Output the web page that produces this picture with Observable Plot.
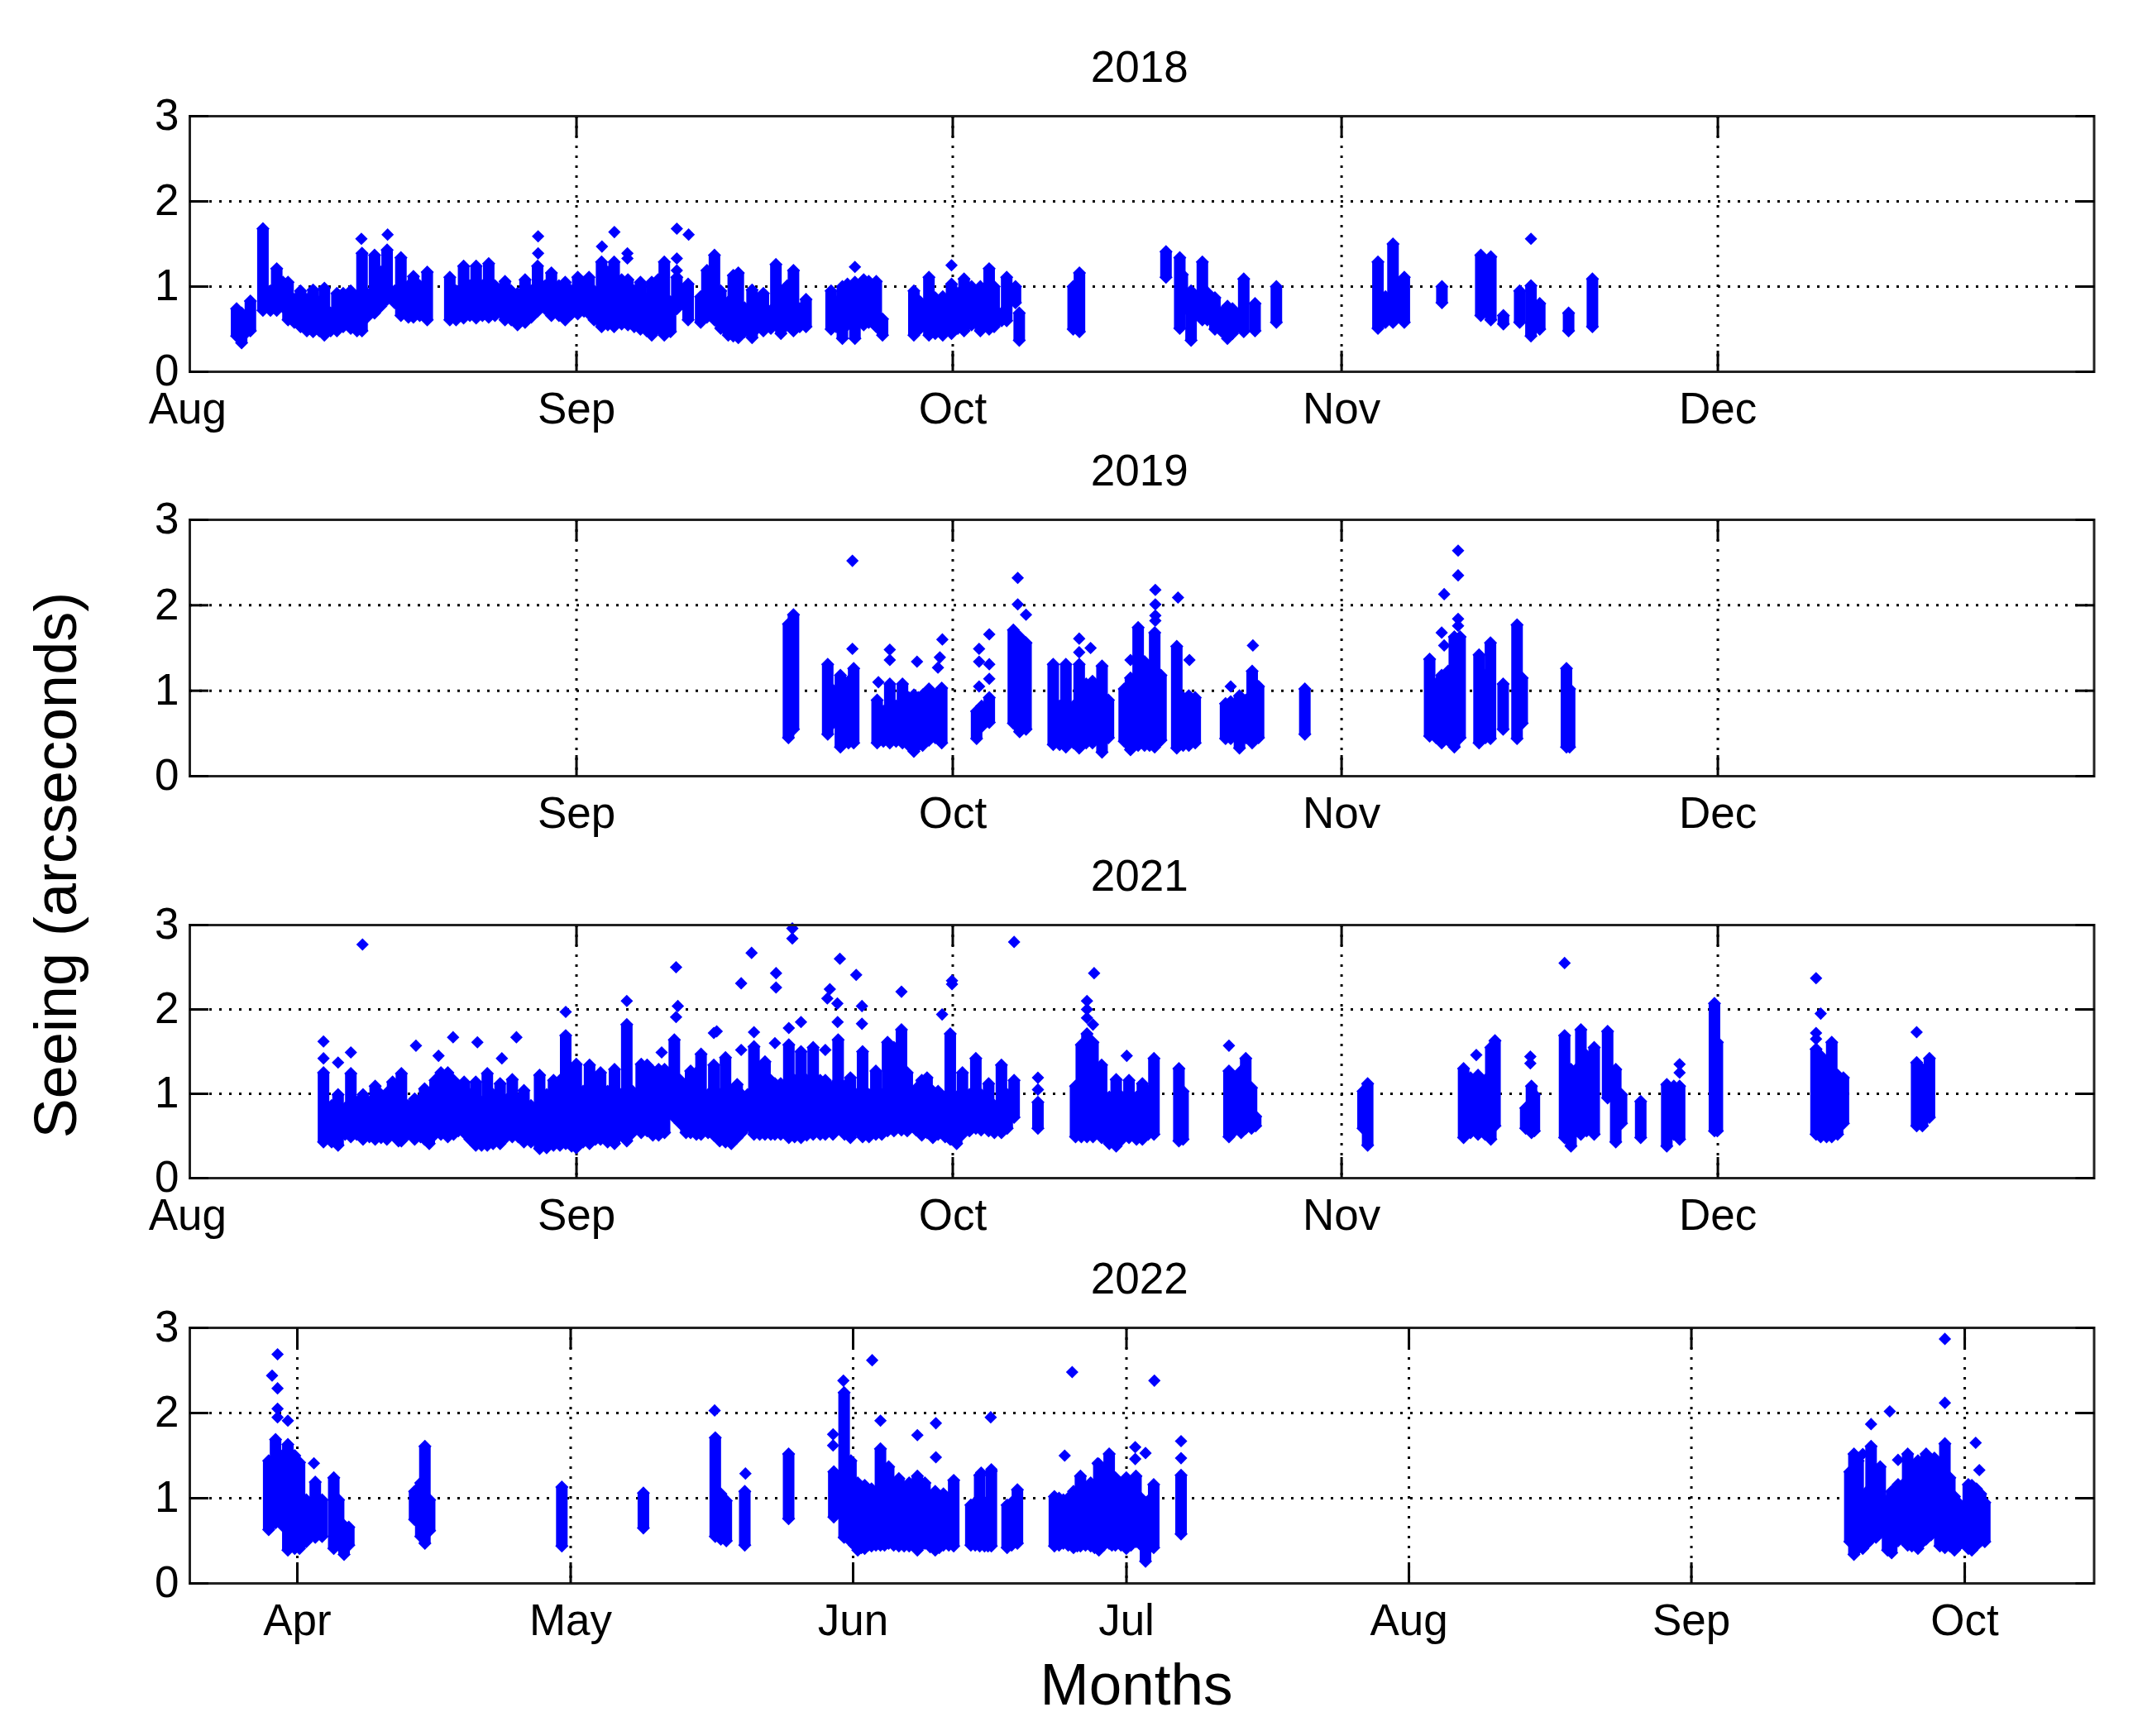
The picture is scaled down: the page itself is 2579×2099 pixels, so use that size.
<!DOCTYPE html>
<html>
<head>
<meta charset="utf-8">
<script src="https://cdn.jsdelivr.net/npm/d3@7"></script>
<script src="https://cdn.jsdelivr.net/npm/@observablehq/plot@0.6"></script>
<style>
html,body{margin:0;padding:0;background:#fff}
#chart{position:relative;width:2579px;height:2099px;font-family:"Liberation Sans",Arial,sans-serif;color:#000;overflow:hidden}
#chart svg{display:block;overflow:visible}
.lab{position:absolute;line-height:1;white-space:nowrap;transform:translate(-50%,-50%)}
</style>
</head>
<body>
<div id="chart"></div>
<script>
// Nightly seeing envelopes: day offset from the panel's origin, highest and lowest value.
const days2018=[3.8,4.2,4.5,4.9,5.9,6.5,7,7.5,7.9,8.4,8.9,9.4,9.9,10.4,10.8,11.3,11.8,12.3,12.9,13.4,13.8,14.2,14.8,15.3,15.8,16.4,16.9,17.5,17.9,18.4,19,20.8,21.3,21.9,22.4,22.9,23.4,23.9,24.4,25.2,25.7,26.2,26.8,27.3,27.8,28.4,28.9,29.5,30,30.5,31,31.5,31.9,32.3,32.9,33.4,33.9,34.5,35,35.5,36,36.5,36.9,37.4,37.9,38.4,38.9,39.8,40.8,41.3,41.9,42.4,43,43.4,43.8,44.3,44.9,45.3,45.8,46.4,46.8,47.2,47.7,48.2,48.7,49.2,51.2,51.6,52.1,52.5,53.1,53.8,54.2,54.8,55.3,57.8,58.3,59,59.5,60.1,60.8,61.3,61.8,62.4,63.1,63.8,64.2,64.8,65.2,65.9,66.2,70.5,71,77.9,79,79.2,79.9,80.8,81.2,81.8,82.3,82.8,83.2,84.1,85,86.7,94.8,95.4,96,96.9,99.9,103,103.8,104.8,106.1,107,107.7,110,111.9];
const high2018=[.74,.69,.59,.83,1.68,.95,1.21,1.05,1.05,.85,.95,.85,.96,.82,.98,.69,.92,.92,.95,.85,1.39,.92,1.37,1.17,1.43,.95,1.34,1.01,1.12,1.01,1.17,1.11,.95,1.24,1.01,1.24,1.01,1.27,1.01,1.06,.95,.92,1.08,.95,1.24,1.01,1.16,1.01,1.05,.95,1.11,1.05,1.11,.95,1.29,1.17,1.29,1.08,1.08,.95,1.05,.85,1.05,1.08,1.29,.82,1.11,1.03,.88,1.19,1.37,.95,.82,1.13,1.16,.75,.96,.72,.92,.72,1.26,.82,1.01,1.19,.74,.85,.95,.82,1,1.03,1.05,1.08,1.06,1.06,.62,.95,.82,1.11,.87,.88,1.03,.92,1.09,1,1,1.21,1,.69,1.11,1,.69,1,1.16,1.41,1.34,1.14,.95,1.29,.93,.87,.69,.77,.74,1.09,.8,1,1.29,.88,1.5,1.11,1,1.37,1.35,.66,.95,1.01,.8,.69,1.09];
const low2018=[.42,.34,.45,.48,.72,.72,.72,.76,.61,.58,.53,.48,.47,.48,.43,.48,.48,.53,.51,.48,.48,.64,.69,.77,.85,.81,.66,.64,.64,.66,.61,.61,.61,.63,.66,.63,.66,.64,.66,.61,.61,.55,.58,.64,.71,.74,.66,.66,.61,.68,.68,.71,.68,.61,.53,.55,.53,.56,.55,.53,.5,.48,.43,.51,.43,.47,.74,.61,.58,.64,.61,.51,.43,.42,.4,.47,.4,.51,.48,.51,.55,.45,.55,.48,.53,.53,.5,.53,.39,.55,.39,.55,.58,.53,.43,.43,.51,.43,.45,.43,.45,.51,.48,.55,.48,.5,.53,.6,.6,.81,.37,.5,.47,1.11,.51,.71,.37,.61,.61,.5,.48,.39,.45,.47,.48,.58,.51,.58,.58,.58,.81,.66,.61,.56,.58,.42,.5,.48,.53];
const spikeDays2018=[13.75,15.84,27.84,27.84,32.93,33.92,34.96,34.96,38.9,38.9,38.9,39.84,53.1,60.8,107];
const spikes2018=[1.56,1.61,1.59,1.39,1.47,1.64,1.39,1.33,1.68,1.33,1.19,1.61,1.23,1.25,1.56];

const days2019=[47.8,48.2,50.93,51.33,51.94,52.59,53,54.87,55.37,55.88,56.38,56.89,57.39,57.8,58.15,58.5,59,59.51,60.02,62.8,63.2,63.81,65.73,66.23,66.74,68.91,69.42,69.92,70.53,70.98,71.54,72.04,72.8,73.31,74.57,75.07,75.68,76.19,76.59,77,77.5,78.76,79.27,79.72,80.23,82.65,83.06,83.76,84.27,84.77,85.28,88.97,98.92,99.43,99.88,100.39,100.89,101.35,102.86,103.37,103.77,104.78,105.89,106.3,109.83,110.08];
const high2019=[1.78,1.89,1.31,1.01,1.18,1.11,1.26,.89,.76,1.08,.82,1.08,.92,.95,.92,.95,1.02,.95,1.03,.76,.82,.92,1.71,1.63,1.56,1.31,.82,1.31,.82,1.31,1.08,1.11,1.29,.89,1.02,1.15,1.74,1.34,1.15,1.68,1.18,1.52,.92,.94,.92,.85,.87,.94,.89,1.23,1.05,1.02,1.37,1.08,1.18,1.23,1.63,1.63,1.42,1.18,1.56,1.08,1.77,1.15,1.26,1.02];
const low2019=[.45,.55,.49,.62,.34,.39,.39,.39,.41,.39,.41,.39,.36,.29,.36,.36,.42,.45,.39,.44,.58,.63,.62,.52,.55,.37,.37,.34,.39,.33,.39,.39,.28,.45,.41,.31,.36,.36,.36,.34,.42,.33,.36,.36,.39,.44,.44,.33,.45,.39,.45,.49,.47,.45,.39,.42,.34,.45,.39,.45,.44,.55,.44,.62,.34,.34];
const spikeDays2019=[52.9,52.9,55.88,55.88,54.97,58.05,60.07,59.87,59.72,63,63,63,63.81,63.81,63.81,66.08,66.08,66.74,77.05,77.05,77.05,77.05,78.86,70.98,70.98,71.89,79.77,75.07,84.83,83.06,101.19,101.19,101.19,101.19,100.08,99.88,100.08];
const spikes2019=[2.52,1.49,1.48,1.36,1.1,1.34,1.6,1.39,1.27,1.49,1.34,1.05,1.66,1.31,1.14,2.32,2.01,1.89,2.18,2.01,1.88,1.82,2.09,1.61,1.45,1.5,1.36,1.36,1.53,1.05,2.64,2.35,1.84,1.76,2.13,1.68,1.53];

const days2021=[10.73,11.38,11.89,12.45,12.91,13.37,13.88,14.39,14.85,15.32,15.78,16.24,16.71,16.94,17.45,18,18.47,18.79,19.16,19.62,20.09,20.64,21.1,21.48,21.94,22.4,22.87,23.33,23.79,24.25,24.81,25.32,25.78,26.25,26.71,27.27,27.96,28.52,29.07,29.58,30.04,30.51,30.88,31.43,31.94,32.41,32.82,33.38,33.93,34.44,34.91,35.37,36.06,36.53,36.99,37.45,37.92,38.7,39.17,39.63,40,40.46,40.83,41.39,41.85,42.32,42.78,43.24,43.71,44.08,44.54,45.05,45.51,45.93,46.39,46.72,47.18,47.83,48.29,48.8,49.26,49.77,50.33,50.74,51.35,51.76,52.27,52.74,53.2,53.71,54.22,54.77,55.24,55.7,56.21,56.81,57.27,57.97,58.43,58.85,59.31,59.73,60.29,60.7,61.21,61.67,62.23,62.74,63.16,63.76,64.22,64.78,65.24,65.79,67.69,70.69,71.15,71.6,72.08,72.77,73.38,73.93,74.39,74.95,75.55,76.02,76.48,76.94,78.93,79.26,82.92,83.43,83.89,84.26,84.72,85.05,93.61,93.98,101.63,102.18,102.78,103.34,103.8,104.13,106.58,107.04,107.27,109.68,110.19,110.61,110.98,111.44,112.04,113.11,113.76,114.22,115.75,117.83,118.39,118.85,121.63,121.86,129.73,130.1,130.57,130.98,131.45,131.91,137.75,138.21,138.77];
const high2021=[1.25,.86,.99,.83,1.24,.9,.99,.9,1.09,.99,1.01,1.14,1.03,1.24,.86,.94,.94,1.06,.83,1.16,1.25,1.25,1.16,.99,1.14,.99,1.14,.9,1.24,.99,1.12,.93,1.17,.93,1.04,.86,1.22,.99,1.16,1.16,1.69,1.16,1.35,1.03,1.34,1.19,1.25,1.03,1.29,.99,1.82,1.03,1.35,1.34,1.27,1.29,1.29,1.64,1.16,1.12,1.27,1.25,1.47,.99,1.34,.99,1.43,1.03,1.11,.99,.99,1.56,1.16,1.38,1.16,1.12,1.12,1.58,1.16,1.5,1.16,1.55,1.16,1.16,1.09,1.64,1.09,1.19,.99,1.5,.99,1.27,.99,1.61,1.55,1.76,1.25,1.06,1.16,1.19,1.03,1.03,.96,1.71,.96,1.25,.99,1.42,.99,1.12,.86,1.34,.99,1.16,.9,1.09,1.58,1.71,1.61,1.34,.96,1.17,.96,1.16,.96,1.12,1.03,1.42,1.3,1.03,1.27,1.19,1.27,1.42,1.07,.73,1.03,1.12,1.3,1.19,1.22,1.16,1.55,1.63,.83,1.09,.99,1.69,1.29,1.29,1.76,1.45,1.55,1.74,1.29,.99,.91,1.11,1.09,1.09,2.07,1.61,1.53,1.45,1.16,1.61,1.22,1.19,1.37,1.29,1.42];
const low2021=[.43,.43,.39,.52,.49,.52,.46,.49,.46,.48,.46,.52,.44,.44,.52,.46,.49,.46,.41,.52,.52,.49,.52,.56,.54,.46,.39,.39,.39,.41,.41,.49,.49,.49,.43,.43,.35,.36,.39,.39,.41,.38,.36,.43,.41,.46,.46,.43,.41,.52,.44,.54,.54,.56,.51,.51,.54,.72,.65,.54,.54,.52,.52,.54,.51,.44,.43,.41,.48,.54,.62,.52,.52,.52,.52,.52,.52,.48,.49,.48,.51,.52,.52,.52,.52,.59,.52,.48,.57,.49,.49,.52,.52,.56,.56,.57,.56,.57,.51,.54,.48,.52,.49,.46,.41,.52,.56,.59,.57,.56,.54,.54,.59,.72,.59,.49,.49,.49,.49,.48,.41,.38,.46,.48,.46,.46,.52,.52,.44,.46,.49,.57,.54,.59,.59,.62,.59,.39,.48,.54,.52,.52,.46,.62,.59,.54,.56,.48,.38,.56,.52,.56,.52,.95,.43,.65,.48,.38,.52,.46,.56,.56,.52,.49,.49,.49,.52,.65,.62,.62,.72];
const spikeDays2021=[13.84,38.84,44.03,44.86,46.81,46.81,48.11,48.11,51.9,53.2,51.1,50.9,51.7,53.66,56.81,60.84,60.84,60.05,65.79,34.91,38.98,38.84,30.04,48.8,47.83,45.05,41.85,42.08,51.72,53.66,21.06,26.11,10.73,10.73,18.1,23,19.9,24.95,12.91,11.89,37.69,46.72,44.03,50.74,72.17,71.6,71.6,71.6,72.08,74.77,82.92,102.64,106.95,106.95,109.68,118.85,118.85,129.73,129.73,129.73,130.1,137.75,67.69,67.69];
const spikes2021=[2.77,2.5,2.31,2.67,2.43,2.26,2.96,2.84,2.6,2.41,2.24,2.13,2.07,2.04,2.21,2.34,2.3,1.94,2.8,2.1,2.04,1.91,1.97,1.85,1.78,1.73,1.72,1.74,1.85,1.83,1.67,1.67,1.62,1.42,1.57,1.61,1.45,1.42,1.49,1.37,1.49,1.6,1.52,1.52,2.43,2.1,2,1.9,1.82,1.45,1.57,1.46,1.44,1.36,2.55,1.35,1.25,2.37,1.72,1.65,1.95,1.73,1.19,1.05];

const days2022=[-3.14,-2.39,-1.64,-1.04,-.29,.24,.99,1.97,2.72,4,4.53,5.13,5.65,12.87,13.55,14,14.52,29.03,37.98,45.87,46.48,47.08,49.11,53.92,58.88,60.01,60.76,61.51,62.27,63.02,64,64.9,66.02,67.15,68.05,68.88,70.01,70.91,72.04,73.92,74.89,75.42,76.17,77.9,78.4,79.03,83.09,84.07,85.19,85.95,87.07,87.97,89.1,89.78,90.98,92.04,93.09,93.99,96.99,170.39,170.84,171.3,171.81,172.3,172.72,173.26,173.72,174.17,174.53,174.98,175.68,176.13,176.74,177.19,177.86,178.4,178.76,179.31,179.67,180.27,180.82,181.36,181.87,182.27,183.39,183.78,184.29,184.75,185.2,61.13,61.9,62.65,63.5,64.45,65.45,66.6,67.6,68.45,69.45,70.45,71.5,74.4,75.8,83.6,84.6,85.6,86.5,87.5,88.5,89.4,90.4,91.5,92.6,93.5];
const high2022=[1.44,1.69,1.5,1.63,1.5,1.42,.98,1.19,.98,1.24,.98,.68,.66,1.08,1.18,1.61,.98,1.13,1.06,1.71,1.05,.97,1.08,1.52,1.31,2.24,1.44,1.18,1.15,1.11,1.58,1.37,1.23,1.18,1.26,1.18,1.08,1.05,1.21,.92,1.27,.95,1.32,.92,.95,1.1,1.02,.98,1.08,1.26,1.18,1.4,1.52,1.24,1.24,1.26,.95,1.16,1.27,1.31,1.52,1.44,.98,1.08,1.61,1.34,1.37,.98,.95,1.08,1.16,1.15,1.52,1.21,1.44,1.34,1.52,1.34,1.47,1.27,1.64,1.24,1.02,.95,1.16,1.15,1.11,1.05,.95,1,1,1,1,1,1,1,1,1,1,1,1,.95,.95,1,1,1,1,1,1,1,1,1,1,.98];
const low2022=[.63,.71,.68,.39,.41,.41,.49,.54,.55,.41,.45,.34,.45,.75,.55,.47,.62,.44,.65,.55,.52,.5,.45,.76,.78,.54,.49,.39,.41,.44,.45,.47,.44,.44,.39,.47,.39,.45,.44,.45,.44,.44,.44,.42,.45,.47,.44,.47,.42,.44,.44,.39,.47,.45,.41,.49,.26,.42,.58,.49,.34,.41,.41,.47,.52,.54,.6,.6,.39,.36,.5,.52,.45,.44,.41,.49,.52,.57,.62,.44,.42,.44,.39,.44,.41,.39,.45,.5,.49,.45,.42,.45,.45,.45,.45,.44,.45,.45,.43,.42,.45,.45,.44,.45,.45,.44,.45,.42,.45,.45,.45,.45,.45,.42];
const spikeDays2022=[-2.17,-2.17,-2.17,-2.17,-2.77,-1.04,1.82,45.8,49.18,63.09,64,59.93,58.8,58.8,70.08,70.08,68.05,76.1,85.04,94.06,84.22,91.96,91.96,93.09,89.1,87.83,96.99,96.99,76.17,75.05,180.82,180.82,174.77,172.72,184.2,184.6,171.81,175.68];
const spikes2022=[2.69,2.29,2.05,1.95,2.44,1.91,1.41,2.03,1.29,2.62,1.91,2.38,1.75,1.62,1.88,1.48,1.74,1.95,2.48,2.38,1.5,1.6,1.46,1.53,1.52,1.41,1.67,1.47,1.34,1.3,2.87,2.12,2.02,1.87,1.65,1.33,1.52,1.45];

const DAY=864e5;
const yTicks=[0,1,2,3];
const BLUE="#0000ff";

function panel({title,origin,domain,phase=0,tickDates,labelDates,days,high,low,spikeDays,spikes,height,marginTop,marginBottom}){
  const o=+origin;
  const when=d=>new Date(o+d*DAY);
  const nights=days.map((d,i)=>({t:when(d+phase),hi:high[i],lo:low[i]}));
  const extra=spikeDays.map((d,i)=>({t:when(d+phase),v:spikes[i]}));
  const fmt=d3.utcFormat("%b");
  return Plot.plot({
    width:2579,height,marginLeft:229,marginRight:47.5,marginTop,marginBottom,
    style:{fontFamily:'"Liberation Sans",Arial,sans-serif',background:"#fff",color:"#000",overflow:"visible"},
    x:{type:"utc",domain:domain.map(when)},
    y:{domain:[0,3]},
    marks:[
      Plot.gridX(tickDates,{stroke:"#000",strokeOpacity:1,strokeWidth:3,strokeDasharray:"3 9"}),
      Plot.gridY([1,2],{stroke:"#000",strokeOpacity:1,strokeWidth:3,strokeDasharray:"3 9"}),
      Plot.ruleX(nights,{x:"t",y1:"lo",y2:"hi",stroke:BLUE,strokeWidth:14}),
      Plot.dot(nights,{x:"t",y:"hi",symbol:"diamond2",r:7.2,fill:BLUE}),
      Plot.dot(nights,{x:"t",y:"lo",symbol:"diamond2",r:7.2,fill:BLUE}),
      Plot.dot(extra,{x:"t",y:"v",symbol:"diamond2",r:6.8,fill:BLUE}),
      Plot.frame({stroke:"#222",strokeWidth:3}),
      Plot.axisX(tickDates,{anchor:"bottom",tickSize:-25,strokeWidth:3,fill:"none",label:null}),
      Plot.axisX(tickDates,{anchor:"top",tickSize:-25,strokeWidth:3,fill:"none",label:null}),
      Plot.axisY(yTicks,{anchor:"left",tickSize:-23,strokeWidth:3,fill:"none",label:null}),
      Plot.axisY(yTicks,{anchor:"right",tickSize:-23,strokeWidth:3,fill:"none",label:null}),
      Plot.axisX(labelDates,{anchor:"bottom",tickSize:0,tickPadding:25,tickFormat:fmt,label:null,fontSize:53}),
      Plot.axisY(yTicks,{anchor:"left",tickSize:0,tickPadding:13,tickFormat:"d",label:null,fontSize:53}),
      Plot.text([title],{frameAnchor:"top",fontSize:53,fill:"#000",dy:-42,dx:-3,lineAnchor:"bottom"})
    ]
  });
}
const ud=(y,m,d=1)=>new Date(Date.UTC(y,m,d));
const months=(y,ms)=>ms.map(m=>ud(y,m));
const chart=document.getElementById("chart");
const aug=[.17,152];
const inner=[8,9,10,11], withAug=[7,8,9,10,11];
chart.append(panel({title:"2018",origin:ud(2018,7),domain:aug,phase:.1,tickDates:months(2018,inner),labelDates:months(2018,withAug),days:days2018,high:high2018,low:low2018,spikeDays:spikeDays2018,spikes:spikes2018,height:540,marginTop:140,marginBottom:91}));
chart.append(panel({title:"2019",origin:ud(2019,7),domain:aug,phase:.1,tickDates:months(2019,inner),labelDates:months(2019,inner),days:days2019,high:high2019,low:low2019,spikeDays:spikeDays2019,spikes:spikes2019,height:490,marginTop:88,marginBottom:92}));
chart.append(panel({title:"2021",origin:ud(2021,7),domain:aug,phase:.1,tickDates:months(2021,inner),labelDates:months(2021,withAug),days:days2021,high:high2021,low:low2021,spikeDays:spikeDays2021,spikes:spikes2021,height:480,marginTop:88,marginBottom:86}));
chart.append(panel({title:"2022",origin:ud(2022,3),domain:[-11.8,197.2],tickDates:months(2022,[3,4,5,6,7,8,9]),labelDates:months(2022,[3,4,5,6,7,8,9]),days:days2022,high:high2022,low:low2022,spikeDays:spikeDays2022,spikes:spikes2022,height:589,marginTop:95,marginBottom:185}));
const xl=document.createElement("div");xl.className="lab";xl.textContent="Months";xl.style.cssText="left:1374px;top:2036px;font-size:71px";chart.append(xl);
const yl=document.createElement("div");yl.className="lab";yl.textContent="Seeing (arcseconds)";yl.style.cssText="left:67px;top:1046px;font-size:72px;transform:translate(-50%,-50%) rotate(-90deg)";chart.append(yl);
</script>
</body>
</html>
